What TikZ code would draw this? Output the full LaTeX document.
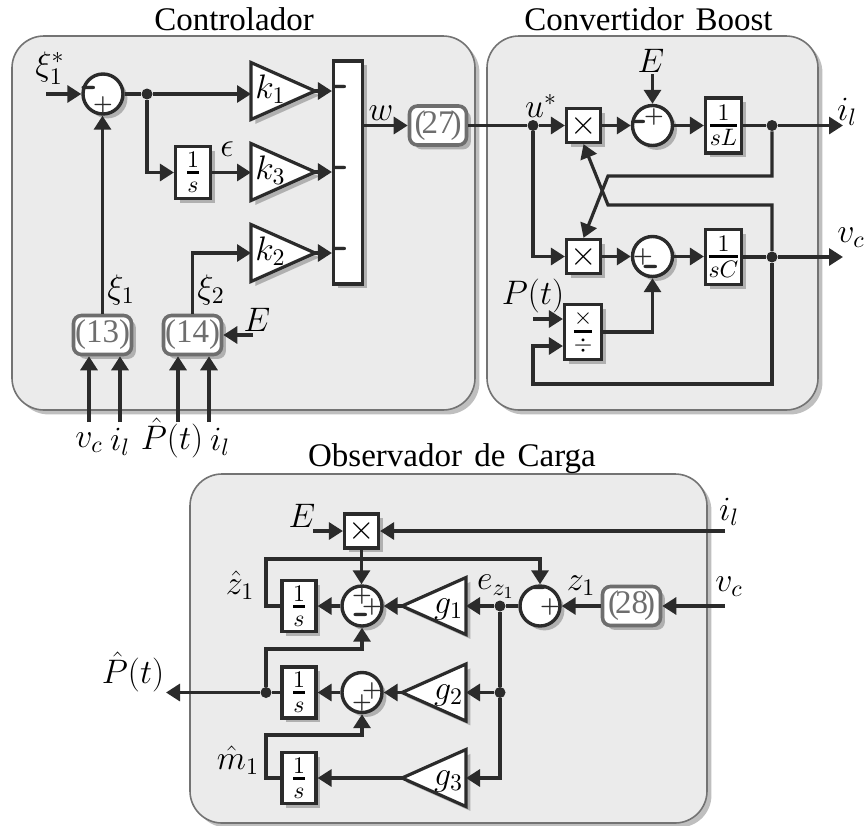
\documentclass[tikz,border=0pt]{standalone}
\usepackage{fix-cm}
\usepackage{amsmath}
\usepackage[no-math]{fontspec}
\setmainfont{Liberation Serif}
\usetikzlibrary{arrows.meta,shapes.geometric,shadows}
\definecolor{ink}{HTML}{2B2B2B}
\definecolor{panelgray}{HTML}{EBEBEB}
\definecolor{eqgray}{HTML}{6E6E6E}
\newcommand{\ofrac}[2]{\genfrac{}{}{1.5pt}{1}{#1}{#2}}
\newcommand{\glbl}[1]{\smash{\raisebox{-3.5pt}{\makebox[0pt]{\kern1pt$#1$}}}}
\tikzset{
  softshadow/.style={drop shadow={shadow xshift=2.2pt,shadow yshift=-2.2pt,
      opacity=.25,fill=black}},
  panel/.style={draw=black!55,line width=.8pt,fill=panelgray,rounded corners=16pt,
    softshadow,inner sep=0pt},
  title/.style={font=\fontsize{16.5}{18}\selectfont,inner sep=0pt},
  lbl/.style={font=\fontsize{17}{19}\selectfont,inner sep=0pt},
  wire/.style={ink,line width=1.6pt},
  arr/.style={wire,-{Triangle[length=7pt,width=8.5pt]}},
  blk/.style={draw=ink,line width=1.6pt,fill=white,softshadow,inner sep=0pt,
    font=\fontsize{17}{19}\selectfont},
  sumc/.style={circle,draw=ink,line width=1.7pt,fill=white,softshadow,inner sep=0pt,
    minimum size=20pt},
  sgnp/.style={font=\fontsize{11}{13}\selectfont\boldmath,inner sep=0pt,text=ink},
  sgnm/.style={font=\fontsize{23}{25}\selectfont\sffamily\bfseries,inner sep=0pt,
    text=ink},
  gain/.style={isosceles triangle,isosceles triangle stretches,draw=ink,
    line width=1.6pt,fill=white,softshadow,inner sep=0pt,outer sep=0pt,
    minimum height=32pt,minimum width=28.5pt,anchor=lower side,
    font=\fontsize{17}{19}\selectfont},
  gainl/.style={gain,shape border rotate=180},
  eqbox/.style={draw=eqgray,line width=1.8pt,fill=white,rounded corners=4pt,
    softshadow,inner sep=0pt,text=eqgray,font=\fontsize{16.5}{18}\selectfont},
  dot/.style={circle,fill=ink,inner sep=0pt,minimum size=5.5pt},
}
\begin{document}
\begin{tikzpicture}[x=.5pt,y=-.5pt]
    \useasboundingbox (0,0) rectangle (867,825);

    % Controlador
    \node[panel,minimum width=231.5pt,minimum height=187pt] (ctrlpanel)
    at (243.5,223) {};
    \node[title] (ctrltitle) at (234,19) {Controlador};

    \node[sumc] (sum1) at (103,94) {};
    \node[sgnm] (sum1m) at (90,92) {-};
    \node[sgnp] (sum1p) at (103,105) {$+$};
    \node[dot] (dot1) at (147,94) {};
    \node[gain] (k1) at (251,91) {\glbl{k_1}};
    \node[gain] (k3) at (251,172) {\glbl{k_3}};
    \node[gain] (k2) at (251,253) {\glbl{k_2}};
    \node[blk,minimum width=14.5pt,minimum height=111.5pt] (bar) at (348,172.5) {};
    \node[sgnm] (barm1) at (341,91) {-};
    \node[sgnm] (barm2) at (341,172) {-};
    \node[sgnm] (barm3) at (341,253) {-};
    \node[blk,minimum width=17.5pt,minimum height=26pt] (int1) at (193,172.5)
    {$\ofrac{1}{s}$};
    \node[eqbox,minimum width=28.5pt,minimum height=19.5pt] (eq27) at (438,125.5)
    {(\kern-2pt 27\kern-2pt)};
    \node[eqbox,minimum width=29pt,minimum height=19.5pt] (eq13) at (102.5,335)
    {(13)};
    \node[eqbox,minimum width=29pt,minimum height=19.5pt] (eq14) at (192.5,335)
    {(14)};

    \coordinate (xiin) at (46,94);
    \coordinate (ein) at (253,335);
    \coordinate (vcin) at (89,422);
    \coordinate (ilin) at (120,422);
    \coordinate (pin) at (178,422);
    \coordinate (ilinb) at (209,422);

    \node[lbl] (xilbl) at (50,68) {$\xi_1^*$};
    \node[lbl] (wlbl) at (381,113) {$w$};
    \node[lbl] (eplbl) at (227,149) {$\epsilon$};
    \node[lbl] (xi1lbl) at (121,290) {$\xi_1$};
    \node[lbl] (xi2lbl) at (211,290) {$\xi_2$};
    \node[lbl] (elbl) at (257,320) {$E$};
    \node[lbl] (vclbl) at (89,443) {$v_c$};
    \node[lbl] (illbl) at (120,442) {$i_l$};
    \node[lbl] (plbl) at (172,438) {$\hat{P}(t)$};
    \node[lbl] (illblb) at (220,442) {$i_l$};

    \draw[arr] (xiin) -- (sum1);
    \draw[wire] (sum1) -- (dot1);
    \draw[arr] (dot1) -- (dot1 -| k1.lower side);
    \draw[arr] (dot1) |- (int1);
    \draw[arr] (int1) -- (int1 -| k3.lower side);
    \draw[arr] (k1.apex) -- (k1.apex -| bar.west);
    \draw[arr] (k3.apex) -- (k3.apex -| bar.west);
    \draw[arr] (k2.apex) -- (k2.apex -| bar.west);
    \draw[arr] (bar.east |- eq27) -- (eq27);
    \draw[arr] (eq13) -- (sum1.south -| eq13);
    \draw[arr] (eq14) |- (k2.lower side);
    \draw[arr] (ein) -- (eq14);
    \draw[arr] (vcin) -- (vcin |- eq13.south);
    \draw[arr] (ilin) -- (ilin |- eq13.south);
    \draw[arr] (pin) -- (pin |- eq14.south);
    \draw[arr] (ilinb) -- (ilinb |- eq14.south);

    % Convertidor Boost
    \node[panel,minimum width=165.5pt,minimum height=187pt] (boostpanel)
    at (652.5,223) {};
    \node[title] (boosttitle) at (648.5,19) {Convertidor\hspace{.1em} Boost};

    \node[blk,minimum size=17pt] (mul1) at (583.5,125.5) {$\times$};
    \node[blk,minimum size=17pt] (mul2) at (583.5,256.5) {$\times$};
    \node[sumc] (sum2) at (652.5,125.5) {};
    \node[sgnm] (sum2m) at (640,126) {-};
    \node[sgnp] (sum2p) at (654,117) {$+$};
    \node[sumc] (sum3) at (652.5,256.5) {};
    \node[sgnp] (sum3p) at (643,257) {$+$};
    \node[sgnm] (sum3m) at (652,271) {-};
    \node[blk,minimum width=18pt,minimum height=27.5pt] (intl) at (723.5,125.5)
    {$\ofrac{1}{sL}$};
    \node[blk,minimum width=18pt,minimum height=27.5pt] (intc) at (723.5,257)
    {$\ofrac{1}{sC}$};
    \node[blk,minimum width=18.5pt,minimum height=27.5pt] (divb) at (583,332)
    {$\ofrac{\times}{\div}$};
    \node[dot] (dotu) at (533,125.5) {};
    \node[dot] (dotil) at (772,125.5) {};
    \node[dot] (dotvc) at (772,257) {};

    \coordinate (eboost) at (652.5,74);
    \coordinate (ilout) at (843,125.5);
    \coordinate (vcout) at (843,257);
    \coordinate (pbin) at (533,319);
    \coordinate (elbow1) at (608,176);
    \coordinate (elbow2) at (608,205);
    \coordinate (fbdiv) at (533,346);
    \coordinate (fbcorner) at (772,384);

    \node[lbl] (ustar) at (541,106) {$u^*$};
    \node[lbl] (eboostlbl) at (651,61) {$E$};
    \node[lbl] (ilboost) at (847,112) {$i_l$};
    \node[lbl] (vcboost) at (851,238) {$v_c$};
    \node[lbl] (ptlbl) at (533,296) {$P(t)$};

    \draw[wire] (eq27) -- (dotu);
    \draw[arr] (dotu) -- (mul1);
    \draw[arr] (dotu) |- (mul2);
    \draw[arr] (mul1) -- (sum2);
    \draw[arr] (mul2) -- (sum3);
    \draw[arr] (eboost) -- (sum2);
    \draw[arr] (sum2) -- (intl);
    \draw[arr] (sum3) -- (intc.west |- sum3);
    \draw[wire] (intl) -- (dotil);
    \draw[wire] (intc.center -| intc.east) -- (dotvc);
    \draw[arr] (dotil) -- (ilout);
    \draw[arr] (dotvc) -- (vcout);
    \draw[arr] (dotil) |- (elbow1) -- (mul2.north);
    \draw[arr] (dotvc) |- (elbow2) -- (mul1.south);
    \draw[arr] (divb.east) -| (sum3.south);
    \draw[arr] (pbin) -- (pbin -| divb.west);
    \draw[arr] (dotvc) |- (fbcorner -| fbdiv) |- (fbdiv -| divb.west);

    % Observador de Carga
    \node[panel,minimum width=258.5pt,minimum height=174.5pt] (obspanel)
    at (448.5,648.5) {};
    \node[title] (obstitle) at (452,459)
    {Observador\hspace{.12em} de\hspace{.12em} Carga};

    \node[blk,minimum size=17pt] (mul3) at (361.5,531) {$\times$};
    \node[sumc] (sum4) at (362,606) {};
    \node[sgnp] (sum4a) at (362,596) {$+$};
    \node[sgnp] (sum4b) at (372,607) {$+$};
    \node[sgnm] (sum4c) at (362,619) {-};
    \node[sumc] (sum5) at (540,606) {};
    \node[sgnm] (sum5m) at (540,592) {-};
    \node[sgnp] (sum5p) at (550,607) {$+$};
    \node[sumc] (sum6) at (362,692.5) {};
    \node[sgnp] (sum6a) at (372,691) {$+$};
    \node[sgnp] (sum6b) at (362,703) {$+$};
    \node[gainl] (g1) at (466,606) {\glbl{g_1}};
    \node[gainl] (g2) at (466,692.5) {\glbl{g_2}};
    \node[gainl] (g3) at (466,778) {\glbl{g_3}};
    \node[blk,minimum width=17pt,minimum height=25.5pt] (int2) at (299,606)
    {$\ofrac{1}{s}$};
    \node[blk,minimum width=17pt,minimum height=25.5pt] (int3) at (299,692.5)
    {$\ofrac{1}{s}$};
    \node[blk,minimum width=17pt,minimum height=25.5pt] (int4) at (299,778)
    {$\ofrac{1}{s}$};
    \node[eqbox,minimum width=29pt,minimum height=19.5pt] (eq28) at (631.5,606)
    {(\kern-2pt 28\kern-2pt)};
    \node[dot] (dote) at (500,606) {};
    \node[dot] (dotg) at (500,692.5) {};
    \node[dot] (dotp) at (266,692.5) {};

    \coordinate (eobs) at (313,531);
    \coordinate (ilobs) at (725,531);
    \coordinate (vcobs) at (725,606);
    \coordinate (pout) at (166,692.5);
    \coordinate (zfb) at (266,559);
    \coordinate (pfb) at (266,649);
    \coordinate (mfb) at (266,735);

    \node[lbl] (eobslbl) at (302,516) {$E$};
    \node[lbl] (ilobslbl) at (729,512) {$i_l$};
    \node[lbl] (vcobslbl) at (729,587) {$v_c$};
    \node[lbl] (zlbl) at (581,586) {$z_1$};
    \node[lbl] (ezlbl) at (496,587) {$e_{z_1}$};
    \node[lbl] (zhat) at (240,585) {$\hat{z}_1$};
    \node[lbl] (mhat) at (238,760) {$\hat{m}_1$};
    \node[lbl] (phat) at (133,672) {$\hat{P}(t)$};

    \draw[arr] (eobs) -- (mul3);
    \draw[arr] (ilobs) -- (mul3);
    \draw[arr] (mul3) -- (sum4.north -| mul3);
    \draw[arr] (sum4) -- (int2);
    \draw[arr] (g1.apex) -- (sum4);
    \draw[arr] (dote) -- (g1.lower side);
    \draw[wire] (sum5) -- (dote);
    \draw[arr] (eq28) -- (sum5);
    \draw[arr] (vcobs) -- (eq28);
    \draw[arr] (int2.west) -| (zfb) -| (sum5.north);
    \draw[wire] (dote) -- (dotg);
    \draw[arr] (dotg) -- (g2.lower side);
    \draw[arr] (dotg) |- (g3.lower side);
    \draw[arr] (g2.apex) -- (sum6);
    \draw[arr] (sum6) -- (int3);
    \draw[arr] (g3.apex) -- (int4);
    \draw[wire] (int3) -- (dotp);
    \draw[arr] (dotp) -- (pout);
    \draw[arr] (dotp) |- (pfb) -| (sum4.south);
    \draw[arr] (int4.west) -| (mfb) -| (sum6.south);
\end{tikzpicture}
\end{document}
